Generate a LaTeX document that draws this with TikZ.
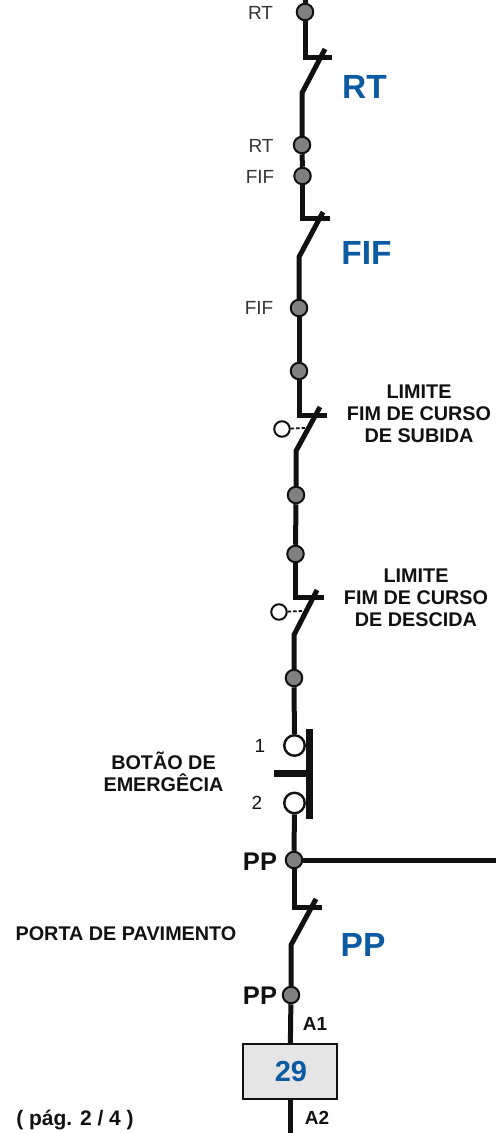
\documentclass[tikz,border=0pt]{standalone}
\usepackage{fontspec}
\setmainfont{Liberation Sans}
\definecolor{bluet}{HTML}{0B5AA2}
\definecolor{dotg}{HTML}{808080}
\definecolor{ink}{HTML}{111111}
\tikzset{x=1pt,y=-1pt,
 wire/.style={draw=ink,line width=5pt,line join=miter},
 dotn/.style={circle,draw=ink,fill=dotg,line width=2pt,minimum size=16.5pt,inner sep=0pt},
 opn/.style={circle,draw=ink,fill=white,line width=2.4pt,minimum size=20.5pt,inner sep=0pt},
 opns/.style={circle,draw=ink,fill=white,line width=2pt,minimum size=15.5pt,inner sep=0pt},
 lbl/.style={text=ink!85,font=\fontsize{19}{21}\selectfont,inner sep=0pt},
 big/.style={text=bluet,font=\fontsize{33.5}{36}\bfseries\selectfont,inner sep=0pt},
 captxt/.style={text=ink,font=\fontsize{19.8}{22}\bfseries\selectfont,align=center,inner sep=0pt},
 pp/.style={text=ink,font=\fontsize{25.5}{28}\bfseries\selectfont,inner sep=0pt},
 aa/.style={text=ink,font=\fontsize{19}{21}\bfseries\selectfont,inner sep=0pt}}
\begin{document}
\begin{tikzpicture}
\useasboundingbox (0,0) rectangle (496,1133);
\coordinate (top) at (305,0);
\node[dotn] (d1) at (305,12) {};
\coordinate (e1) at (332,57);
\coordinate (s1a) at (325,49); \coordinate (s1b) at (302,93);
\node[dotn] (d2) at (302,145) {};
\node[dotn] (d3) at (302.5,176) {};
\coordinate (e2) at (330,218);
\coordinate (s2a) at (323,212); \coordinate (s2b) at (299,257);
\node[dotn] (d4) at (299,308) {};
\node[dotn] (d5) at (299,371) {};
\coordinate (e3) at (327,415);
\coordinate (s3a) at (320,407); \coordinate (s3b) at (296,451);
\node[dotn] (d6) at (296,495) {};
\node[dotn] (d7) at (295.5,554) {};
\coordinate (e4) at (324,597);
\coordinate (s4a) at (317,590); \coordinate (s4b) at (294,635);
\node[dotn] (d8) at (294,678) {};
\node[opn] (o1) at (294.5,745.5) {};
\node[opn] (o2) at (294.5,803) {};
\node[dotn] (d9) at (294,860) {};
\coordinate (r9) at (496,860);
\coordinate (e5) at (322,907);
\coordinate (s5a) at (316,899); \coordinate (s5b) at (291,945);
\node[dotn] (d10) at (291,995) {};
\node[draw=ink,fill=black!10,line width=2.4pt,minimum width=94pt,minimum height=55pt,inner sep=0pt,text=bluet,font=\fontsize{29}{32}\bfseries\selectfont] (box) at (290,1071.5) {\hspace{2pt}29};
\coordinate (bot) at (290,1133);
% wires
\draw[wire] (top) -- (d1);
\draw[wire] (d1) |- (e1);
\draw[wire] (s1a) -- (s1b) -- (d2);
\draw[wire] (d2) -- (d3);
\draw[wire] (d3) |- (e2);
\draw[wire] (s2a) -- (s2b) -- (d4);
\draw[wire] (d4) -- (d5);
\draw[wire] (d5) |- (e3);
\draw[wire] (s3a) -- (s3b) -- (d6);
\draw[wire] (d6) -- (d7);
\draw[wire] (d7) |- (e4);
\draw[wire] (s4a) -- (s4b) -- (d8);
\draw[wire] (d8) -- (o1);
\draw[wire] (o2) -- (d9);
\draw[wire] (d9) -- (r9);
\draw[wire] (d9) |- (e5);
\draw[wire] (s5a) -- (s5b) -- (d10);
\draw[wire] (d10) -- (box);
\draw[wire] (box) -- (bot);
% limit actuators
\node[opns] (l1) at (282,429) {};
\coordinate (l1e) at (305,428);
\draw[ink,line width=1.8pt,dash pattern=on 3.5pt off 2pt] (l1) -- (l1e);
\node[opns] (l2) at (279,612) {};
\coordinate (l2e) at (302,611);
\draw[ink,line width=1.8pt,dash pattern=on 3.5pt off 2pt] (l2) -- (l2e);
% emergency button
\coordinate (b1) at (309,729); \coordinate (b2) at (309,819);
\coordinate (h1) at (274,773); \coordinate (h2) at (309,773);
\draw[ink,line width=7pt] (b1) -- (b2);
\draw[ink,line width=7pt] (h1) -- (h2);
% labels
\node[lbl] (t1) at (260.5,13) {RT};
\node[lbl] (t2) at (261,146) {RT};
\node[lbl] (t3) at (260,177) {FIF};
\node[lbl] (t4) at (259,308) {FIF};
\node[big] (t5) at (364.5,87) {RT};
\node[big] (t6) at (366.5,253) {FIF};
\node[big] (t7) at (363,945) {PP};
\node[captxt] (t8) at (419,414) {LIMITE\\FIM DE CURSO\\DE SUBIDA};
\node[captxt] (t9) at (416,598) {LIMITE\\FIM DE CURSO\\DE DESCIDA};
\node[captxt] (t10) at (163.5,772) {BOTÃO DE\\EMERGÊCIA};
\node[lbl,text=ink] (t11) at (260,746) {1};
\node[lbl,text=ink] (t12) at (257,803) {2};
\node[pp] (t13) at (260,862) {PP};
\node[pp] (t14) at (260,996) {PP};
\node[captxt] (t15) at (126,934) {PORTA DE PAVIMENTO};
\node[aa] (t16) at (315,1024) {A1};
\node[aa] (t17) at (317,1118) {A2};
\node[captxt,font=\fontsize{21}{23}\bfseries\selectfont] (t18) at (75,1120) {( pág. 2 / 4 )};
\end{tikzpicture}
\end{document}
